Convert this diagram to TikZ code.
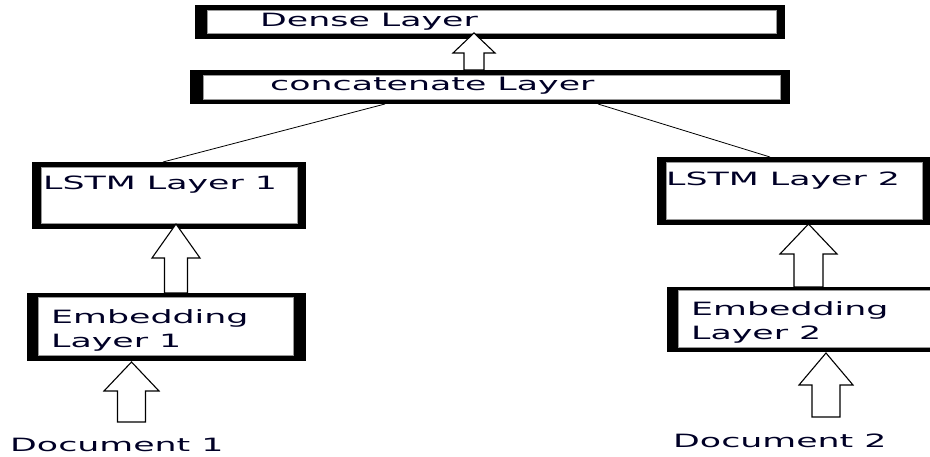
\documentclass[tikz,border=0pt]{standalone}
\usepackage{fontspec}
\newfontfamily\vfont[FakeStretch=1.9]{DejaVu Sans}
\tikzset{
  lbl/.style={inner sep=0pt, text=black!85!blue, font=\vfont\fontsize{18.3}{24}\selectfont},
  conn/.style={draw=black, line width=0.8pt},
  blockarrow/.style={draw=black, fill=white, line width=1.1pt, line join=miter},
}
% #1 name, #2-#5 outer x1,y1,x2,y2, #6-#9 inner x1,y1,x2,y2
\newcommand\layerbox[9]{%
  \fill[black] (#2,#3) rectangle (#4,#5);
  \fill[white] (#6,#7) rectangle (#8,#9);
  \draw[black!40, line width=0.8pt] (#6,#7) rectangle (#8,#9);
  \path (#6,#7) coordinate (#1-nw) (#8,#9) coordinate (#1-se);
}
% #1 tip x, #2 tip y, #3 head base y, #4 head half width, #5 shaft half width, #6 bottom y
\newcommand\uparrowblock[6]{%
  \draw[blockarrow] (#1,#2) -- (#1+#4,#3) -- (#1+#5,#3) -- (#1+#5,#6)
     -- (#1-#5,#6) -- (#1-#5,#3) -- (#1-#4,#3) -- cycle;
}
\begin{document}
\begin{tikzpicture}[x=1pt,y=-1pt]
\useasboundingbox (0,0) rectangle (930,457);
\fill[white] (0,0) rectangle (930,457);

% boxes
\layerbox{dense}{195}{5}{785}{39}{207}{10}{776}{33}
\layerbox{concat}{190}{70}{790}{104}{203}{75}{780}{99}
\layerbox{lstmA}{32}{162}{306}{229}{41}{167}{297}{223}
\layerbox{lstmB}{657}{157}{930}{225}{666}{162}{922}{219}
\layerbox{embA}{27}{293}{306}{361}{38}{297}{293}{355}
\layerbox{embB}{667}{287}{940}{352}{678}{290}{945}{347}

% texts
\node[lbl, anchor=base west] (tdense) at (260,26.5) {Dense Layer};
\node[lbl, anchor=base west] (tconcat) at (270,91) {concatenate Layer};
\node[lbl, anchor=base west] (tlstmA) at (43,190) {LSTM Layer 1};
\node[lbl, anchor=base west] (tlstmB) at (666,186) {LSTM Layer 2};
\node[lbl, anchor=north west, align=left] (tembA) at (51,309.3) {Embedding\\Layer 1};
\node[lbl, anchor=north west, align=left] (tembB) at (691,301.3) {Embedding\\Layer 2};
\node[lbl, anchor=base west] (docA) at (10,451) {Document 1};
\node[lbl, anchor=base west] (docB) at (673,447) {Document 2};

% thin connectors
\coordinate (cA) at (385,104);
\coordinate (cB) at (598,104);
\coordinate (lA) at (163,162);
\coordinate (lB) at (770,157);
\draw[conn] (cA) -- (lA);
\draw[conn] (cB) -- (lB);

% block arrows
\uparrowblock{474}{33}{53}{21}{10}{70}
\uparrowblock{176}{224}{258}{24}{11.5}{293}
\uparrowblock{131.5}{362}{391}{27.5}{14}{422}
\uparrowblock{808.5}{224}{254}{28.5}{14.5}{287}
\uparrowblock{826}{353}{385}{27}{14}{417}
\end{tikzpicture}
\end{document}
